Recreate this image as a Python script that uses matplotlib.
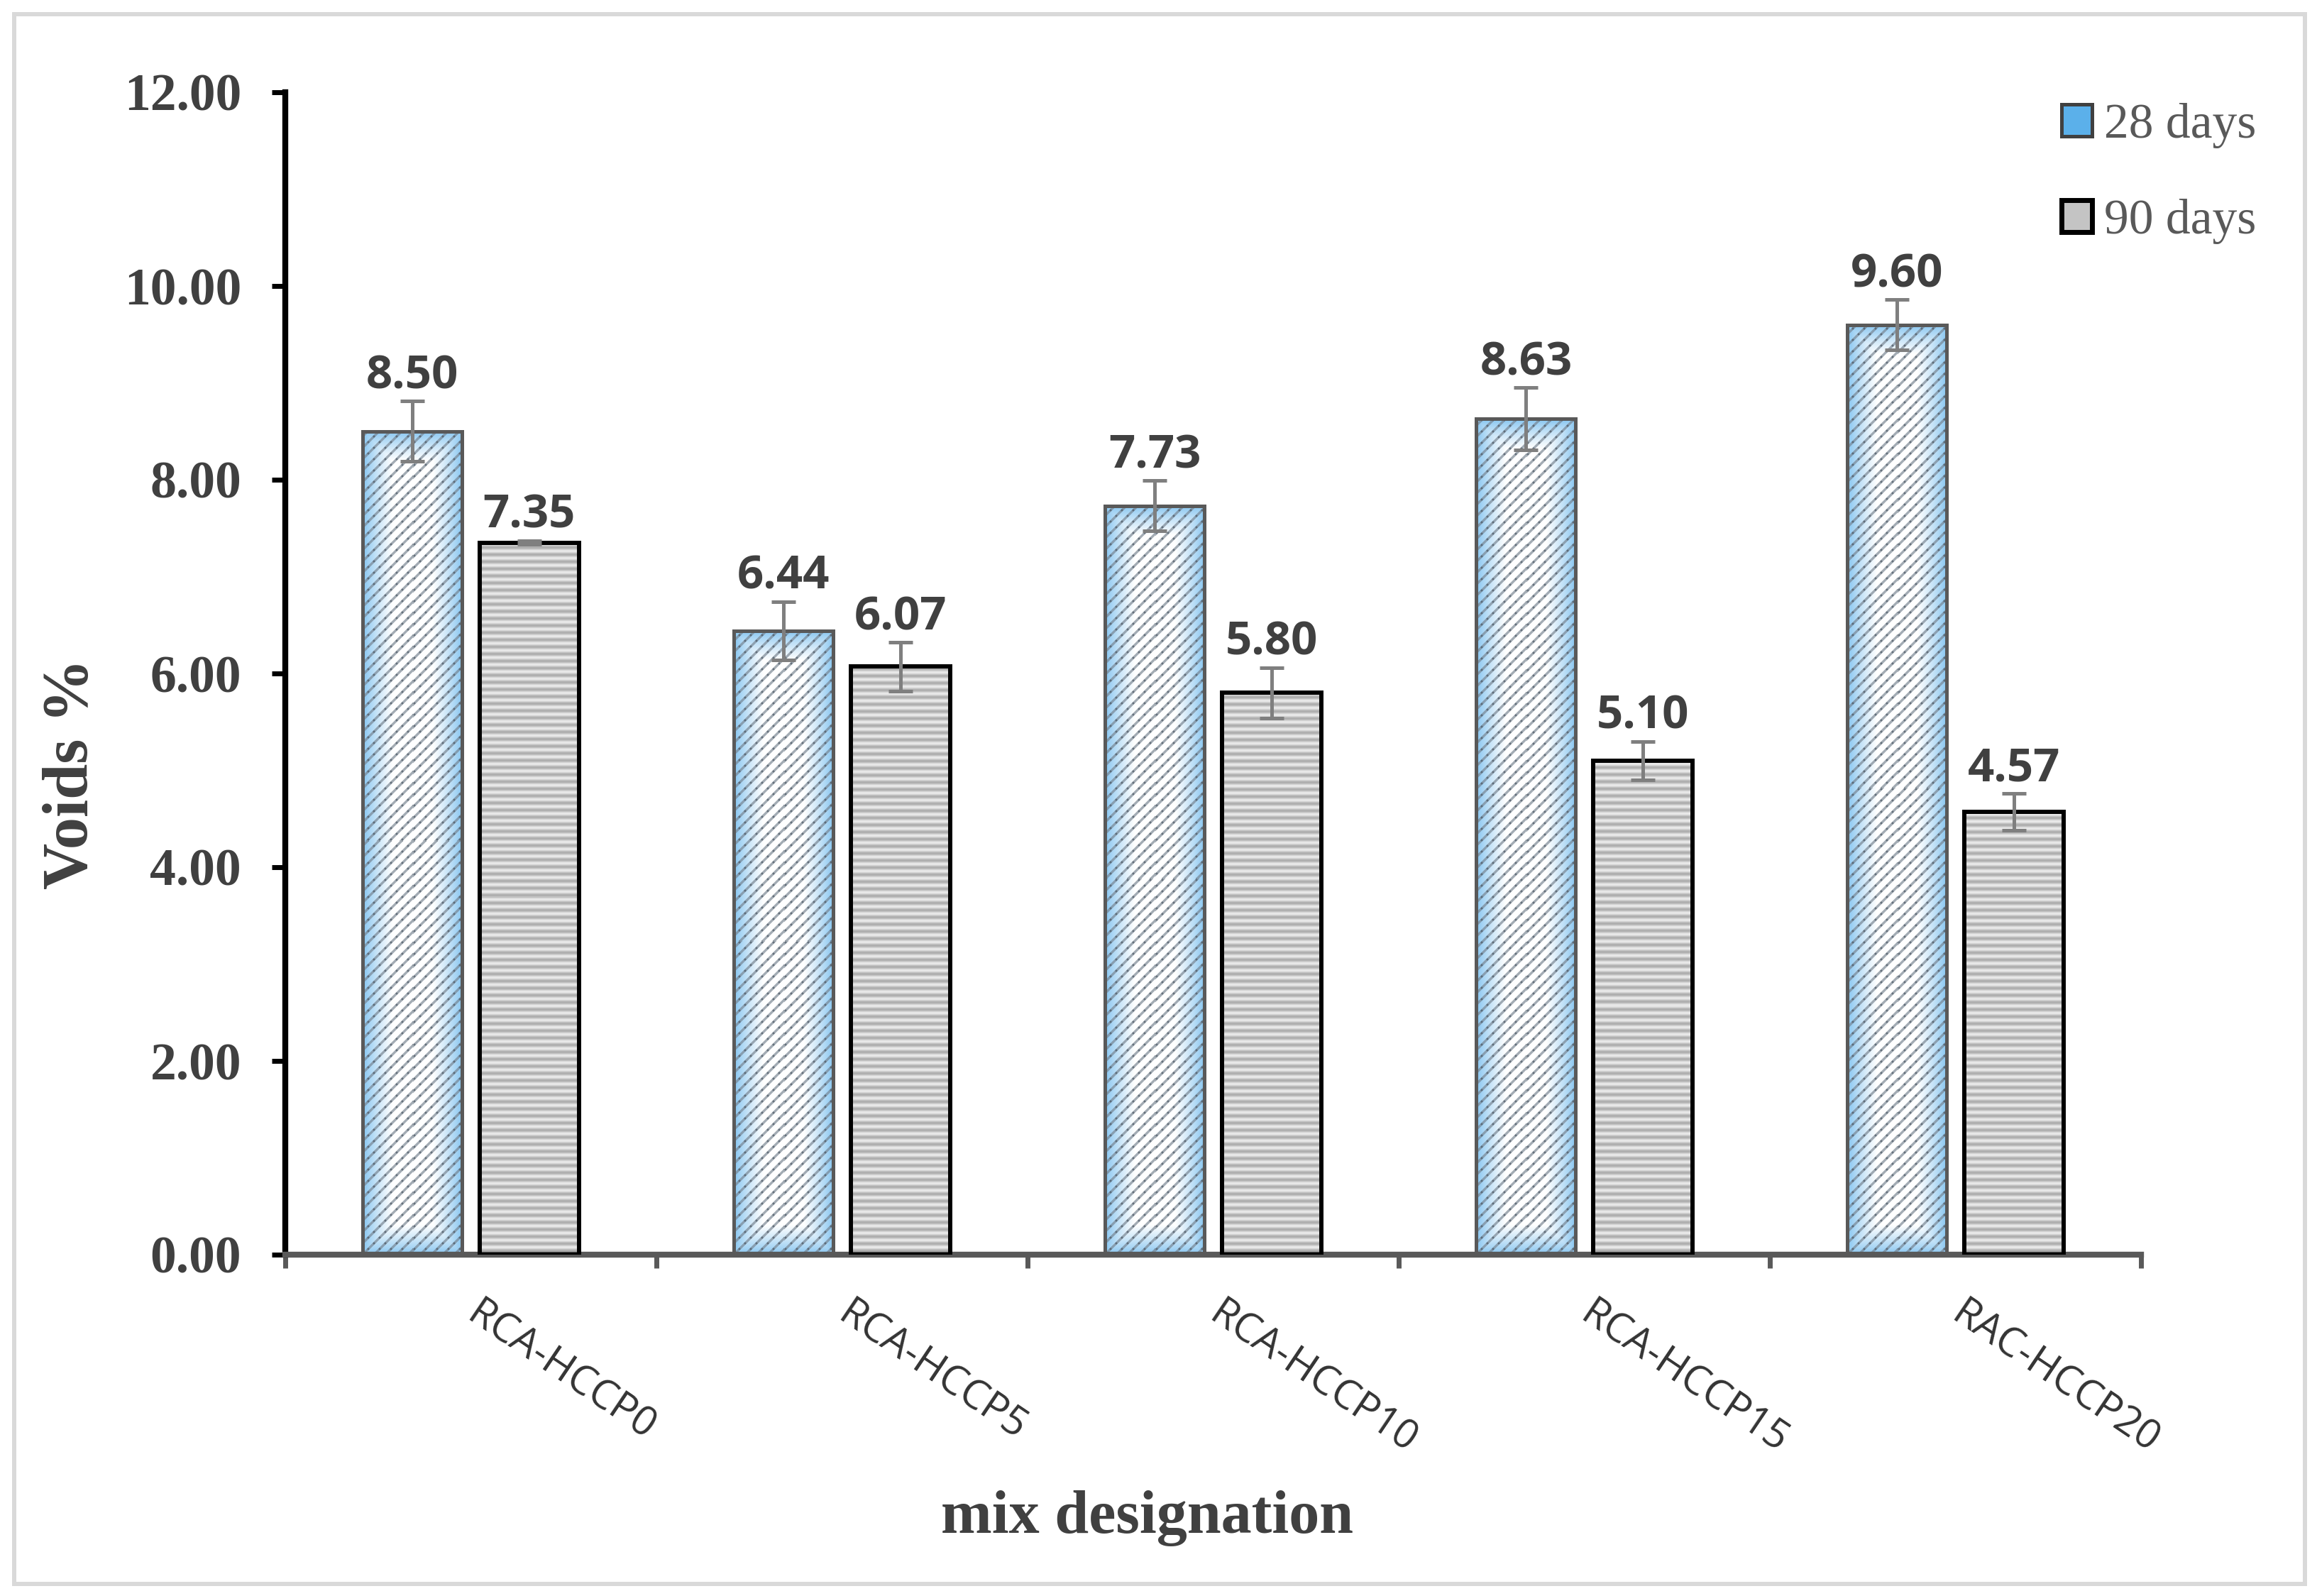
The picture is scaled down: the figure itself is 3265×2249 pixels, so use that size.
import numpy as np
import matplotlib
matplotlib.use("Agg")
import matplotlib.pyplot as plt
from matplotlib.patches import Patch, Rectangle
from matplotlib.transforms import ScaledTranslation

mixes = ["RCA-HCCP0", "RCA-HCCP5", "RCA-HCCP10", "RCA-HCCP15", "RAC-HCCP20"]
voids_28 = [8.50, 6.44, 7.73, 8.63, 9.60]
voids_90 = [7.35, 6.07, 5.80, 5.10, 4.57]
err_28 = [0.31, 0.30, 0.26, 0.32, 0.26]
err_90 = [0.02, 0.25, 0.26, 0.20, 0.19]
series_labels = ["28 days", "90 days"]
y_ticks = [0, 2, 4, 6, 8, 10, 12]

W, H = 3265, 2249
TXT = "#404040"
SERIF = "Liberation Serif"
SANS = "Open Sans"

fig = plt.figure(figsize=(W / 100, H / 100), dpi=100)
ax = fig.add_axes([402 / W, 1 - 1768 / H, (3017 - 402) / W, (1768 - 130) / H])
ax.set_xlim(-0.5, len(mixes) - 0.5)
ax.set_ylim(0, 12)
ax.set_autoscale_on(False)

x = np.arange(len(mixes))
width = 0.268
off = 0.157


def bar_px(xc, h):
    p0 = ax.transData.transform((xc - width / 2, 0))
    p1 = ax.transData.transform((xc + width / 2, h))
    return max(int(round(p1[0] - p0[0])), 2), max(int(round(p1[1] - p0[1])), 2)


def blue_fill(w, h, band=42.0, period=16.0):
    # light-blue edge gradient with dotted diagonal hatch
    X, Y = np.meshgrid(np.arange(w) + 0.5, np.arange(h) + 0.5)
    d = np.minimum(np.minimum(X, w - X), np.minimum(Y, h - Y))
    t = np.clip(d / band, 0, 1) ** 0.8
    edge = np.array([0.50, 0.76, 0.94])
    img = edge[None, None, :] * (1 - t[..., None]) + t[..., None]
    a = np.mod(X - Y, period)
    a = np.minimum(a, period - a)
    b = np.mod(X + Y, period)
    b = np.minimum(b, period - b)
    line_a = np.clip(2.2 - a / np.sqrt(2), 0, 1) * 0.65
    dot_a = np.clip(2.0 - np.sqrt(a ** 2 + b ** 2) / np.sqrt(2), 0, 1) * 0.6
    ink_line = np.array([0.45, 0.50, 0.55])
    ink_dot = np.array([0.25, 0.30, 0.35])
    img = img * (1 - line_a[..., None]) + ink_line * line_a[..., None]
    img = img * (1 - dot_a[..., None]) + ink_dot * dot_a[..., None]
    return img


def grey_stripes(w, h, period=10.0):
    ys = np.arange(h)
    g = 0.80 + 0.12 * np.cos(2 * np.pi * ys / period)
    img = np.repeat(g[:, None], w, axis=1)
    return np.dstack([img, img, img])


for xi, v in zip(x - off, voids_28):
    w_px, h_px = bar_px(xi, v)
    ax.imshow(blue_fill(w_px, h_px), extent=(xi - width / 2, xi + width / 2, 0, v),
              aspect="auto", origin="lower", zorder=1, interpolation="nearest")
ax.bar(x - off, voids_28, width, facecolor="none", edgecolor="#595959",
       linewidth=3.6, zorder=3)

for xi, v in zip(x + off, voids_90):
    w_px, h_px = bar_px(xi, v)
    ax.imshow(grey_stripes(w_px, h_px), extent=(xi - width / 2, xi + width / 2, 0, v),
              aspect="auto", origin="lower", zorder=1, interpolation="nearest")
ax.bar(x + off, voids_90, width, facecolor="none", edgecolor="black",
       linewidth=4.3, zorder=3)

ax.errorbar(x - off, voids_28, yerr=err_28, fmt="none", ecolor="#7f7f7f",
            elinewidth=3.6, capsize=12, capthick=3.6, zorder=4)
ax.errorbar(x + off, voids_90, yerr=err_90, fmt="none", ecolor="#7f7f7f",
            elinewidth=3.6, capsize=12, capthick=3.6, zorder=4)

for xs, vals, errs in [(x - off, voids_28, err_28), (x + off, voids_90, err_90)]:
    for xi, v, e in zip(xs, vals, errs):
        ax.annotate(f"{v:.2f}", xy=(xi, v + e), xytext=(0, 13),
                    textcoords="offset points", ha="center", va="baseline",
                    fontsize=47, fontweight="bold", family=SANS, color=TXT, zorder=5)

# axes styling
for side in ["top", "right"]:
    ax.spines[side].set_visible(False)
ax.spines["left"].set_color("black")
ax.spines["left"].set_linewidth(6)
ax.spines["bottom"].set_color("#595959")
ax.spines["bottom"].set_linewidth(6)

ax.set_yticks(y_ticks)
ax.set_yticklabels([f"{t:.2f}" for t in y_ticks])
ax.tick_params(axis="y", direction="out", length=13.5, width=5, color="black",
               pad=31, labelsize=53, labelcolor=TXT)
for lab in ax.get_yticklabels():
    lab.set_family(SERIF)
    lab.set_fontweight("bold")

ax.set_xticks(np.arange(len(mixes) + 1) - 0.5)
ax.set_xticklabels([])
ax.tick_params(axis="x", which="major", direction="out", length=13.5, width=5,
               color="#595959")
ax.set_xticks(x, minor=True)
ax.set_xticklabels(mixes, minor=True, rotation=-34, ha="left", va="top",
                   rotation_mode="anchor", fontsize=41, family=SANS, color="#333333")
ax.tick_params(axis="x", which="minor", length=0, pad=40)
shift = ScaledTranslation(0.15, 0, fig.dpi_scale_trans)
for lab in ax.get_xticklabels(minor=True):
    lab.set_transform(lab.get_transform() + shift)

fig.text(1617 / W, 1 - 2160 / H, "mix designation", ha="center", va="baseline",
         fontsize=62, fontweight="bold", family=SERIF, color=TXT)
fig.text(101 / W, 1 - 1090 / H, "Voids %", ha="center", va="center", rotation=90,
         fontsize=65, fontweight="bold", family=SERIF, color=TXT)

handles = [
    Patch(facecolor="#5bb0ea", edgecolor="#404040", linewidth=3.6),
    Patch(facecolor="#c4c4c4", edgecolor="black", linewidth=5),
]
ax.legend(handles, series_labels, loc="upper left",
          bbox_to_anchor=(2905 / W, 1 - 145 / H), bbox_transform=fig.transFigure,
          frameon=False, borderpad=0, borderaxespad=0, handlelength=0.62,
          handleheight=0.62, handletextpad=0.25, labelspacing=1.02,
          prop={"family": SERIF, "size": 50}, labelcolor="#595959")

fig.patches.append(Rectangle((20 / W, 1 - 2232 / H), (3248 - 20) / W, (2232 - 20) / H,
                             transform=fig.transFigure, fill=False,
                             edgecolor="#d9d9d9", linewidth=4.3))

fig.savefig("out.png", dpi=100, facecolor="white")
